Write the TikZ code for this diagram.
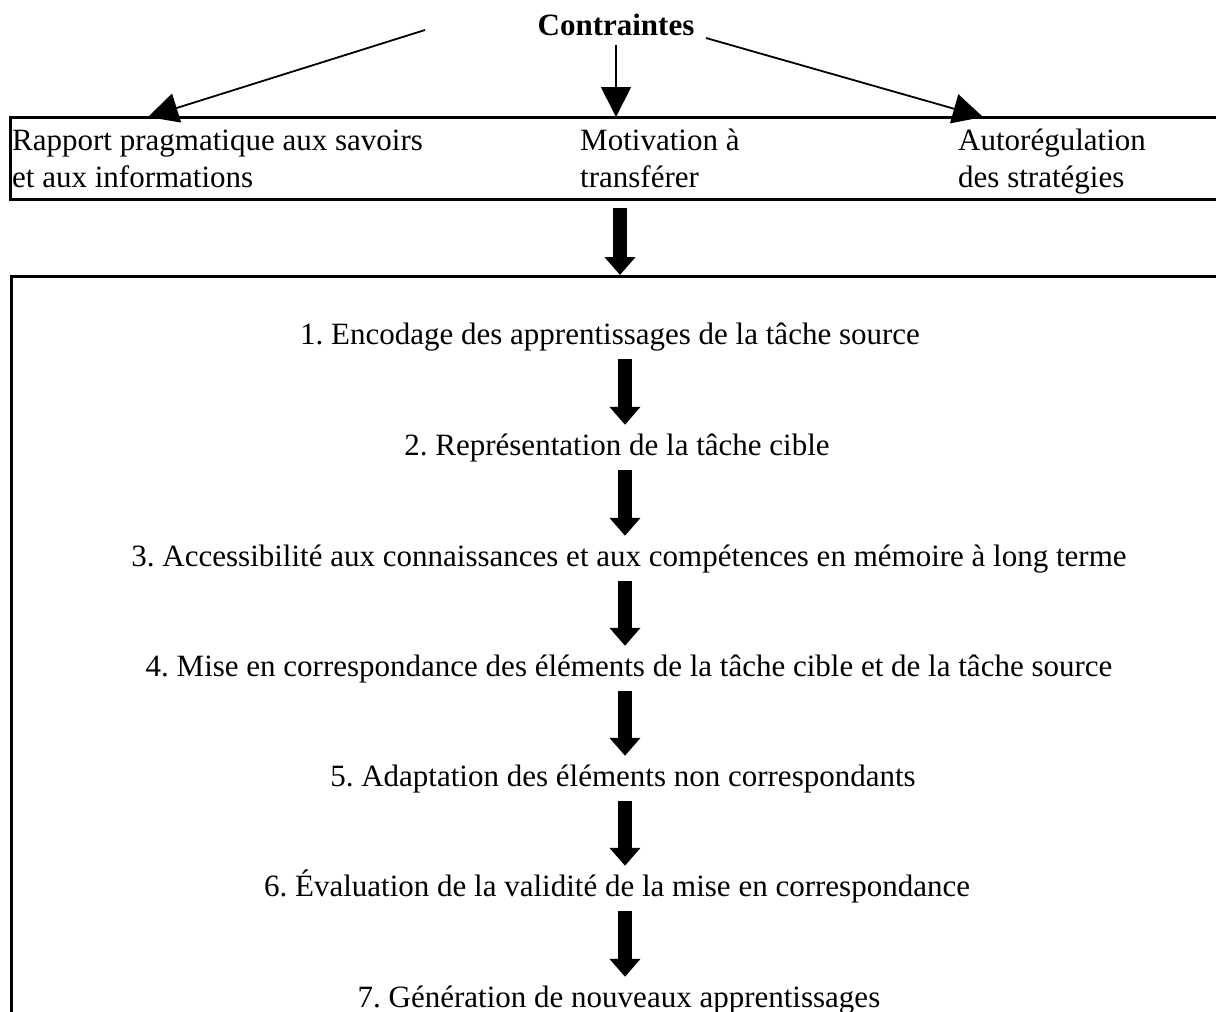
\documentclass[tikz,border=0pt]{standalone}
\usepackage{fontspec}
\setmainfont{Liberation Serif}
\usetikzlibrary{arrows.meta}
\begin{document}
\frenchspacing
\begin{tikzpicture}[x=1pt,y=-1pt,
  txt/.style={inner sep=0pt,font=\fontsize{31}{37}\selectfont,text height=21pt,text depth=7pt,anchor=base},
  boxtxt/.style={inner sep=0pt,font=\fontsize{31}{37}\selectfont,align=left,anchor=north west},
  thinarrow/.style={line width=1.8pt,-{Triangle[length=30pt,width=30pt]}},
  fatarrow/.style={line width=14pt,-{Triangle[length=18pt,width=30pt]}}]
\useasboundingbox (0,0) rectangle (1216,1012);
\clip (0,0) rectangle (1216,1012);
% boxes
\draw[line width=3pt] (10,117) rectangle (1240,199);
\node[draw,line width=2.5pt,inner sep=0pt,anchor=north west,minimum width=1230pt,minimum height=800pt] (big) at (10,275) {};
% title
\node[txt,font=\fontsize{31}{37}\selectfont\bfseries] (c) at (616,35) {Contraintes};
\coordinate (cl) at (425,30);
\coordinate (cm) at (616,45);
\coordinate (cr) at (706,38);
\coordinate (tl) at (148,117);
\coordinate (tm) at (616,117);
\coordinate (tr) at (983,117);
\draw[thinarrow] (cl) -- (tl);
\draw[thinarrow] (cm) -- (tm);
\draw[thinarrow] (cr) -- (tr);
% top box texts
\node[boxtxt] (r) at (12,126) {\rule{0pt}{24pt}Rapport pragmatique aux savoirs\\et aux informations};
\node[boxtxt] (m) at (580,126) {\rule{0pt}{24pt}Motivation à\\transférer};
\node[boxtxt] (a) at (958,126) {\rule{0pt}{24pt}Autorégulation\\des stratégies};
\coordinate (fa) at (620,208);
\draw[fatarrow] (fa) -- (big.north -| fa);
% steps
\node[txt] (s1) at (610,344) {1. Encodage des apprentissages de la tâche source};
\node[txt] (s2) at (617,455) {2. Représentation de la tâche cible};
\node[txt] (s3) at (629,566) {3. Accessibilité aux connaissances et aux compétences en mémoire à long terme};
\node[txt] (s4) at (629,676) {4. Mise en correspondance des éléments de la tâche cible et de la tâche source};
\node[txt] (s5) at (623,786) {5. Adaptation des éléments non correspondants};
\node[txt] (s6) at (617,896) {6. Évaluation de la validité de la mise en correspondance};
\node[txt] (s7) at (619,1007) {7. Génération de nouveaux apprentissages};
\coordinate (ax) at (625,0);
\foreach \i/\j in {s1/s2,s2/s3,s3/s4,s4/s5,s5/s6,s6/s7}
  \draw[fatarrow,shorten <=8pt,shorten >=9pt] (\i.south -| ax) -- (\j.north -| ax);
\end{tikzpicture}
\end{document}
